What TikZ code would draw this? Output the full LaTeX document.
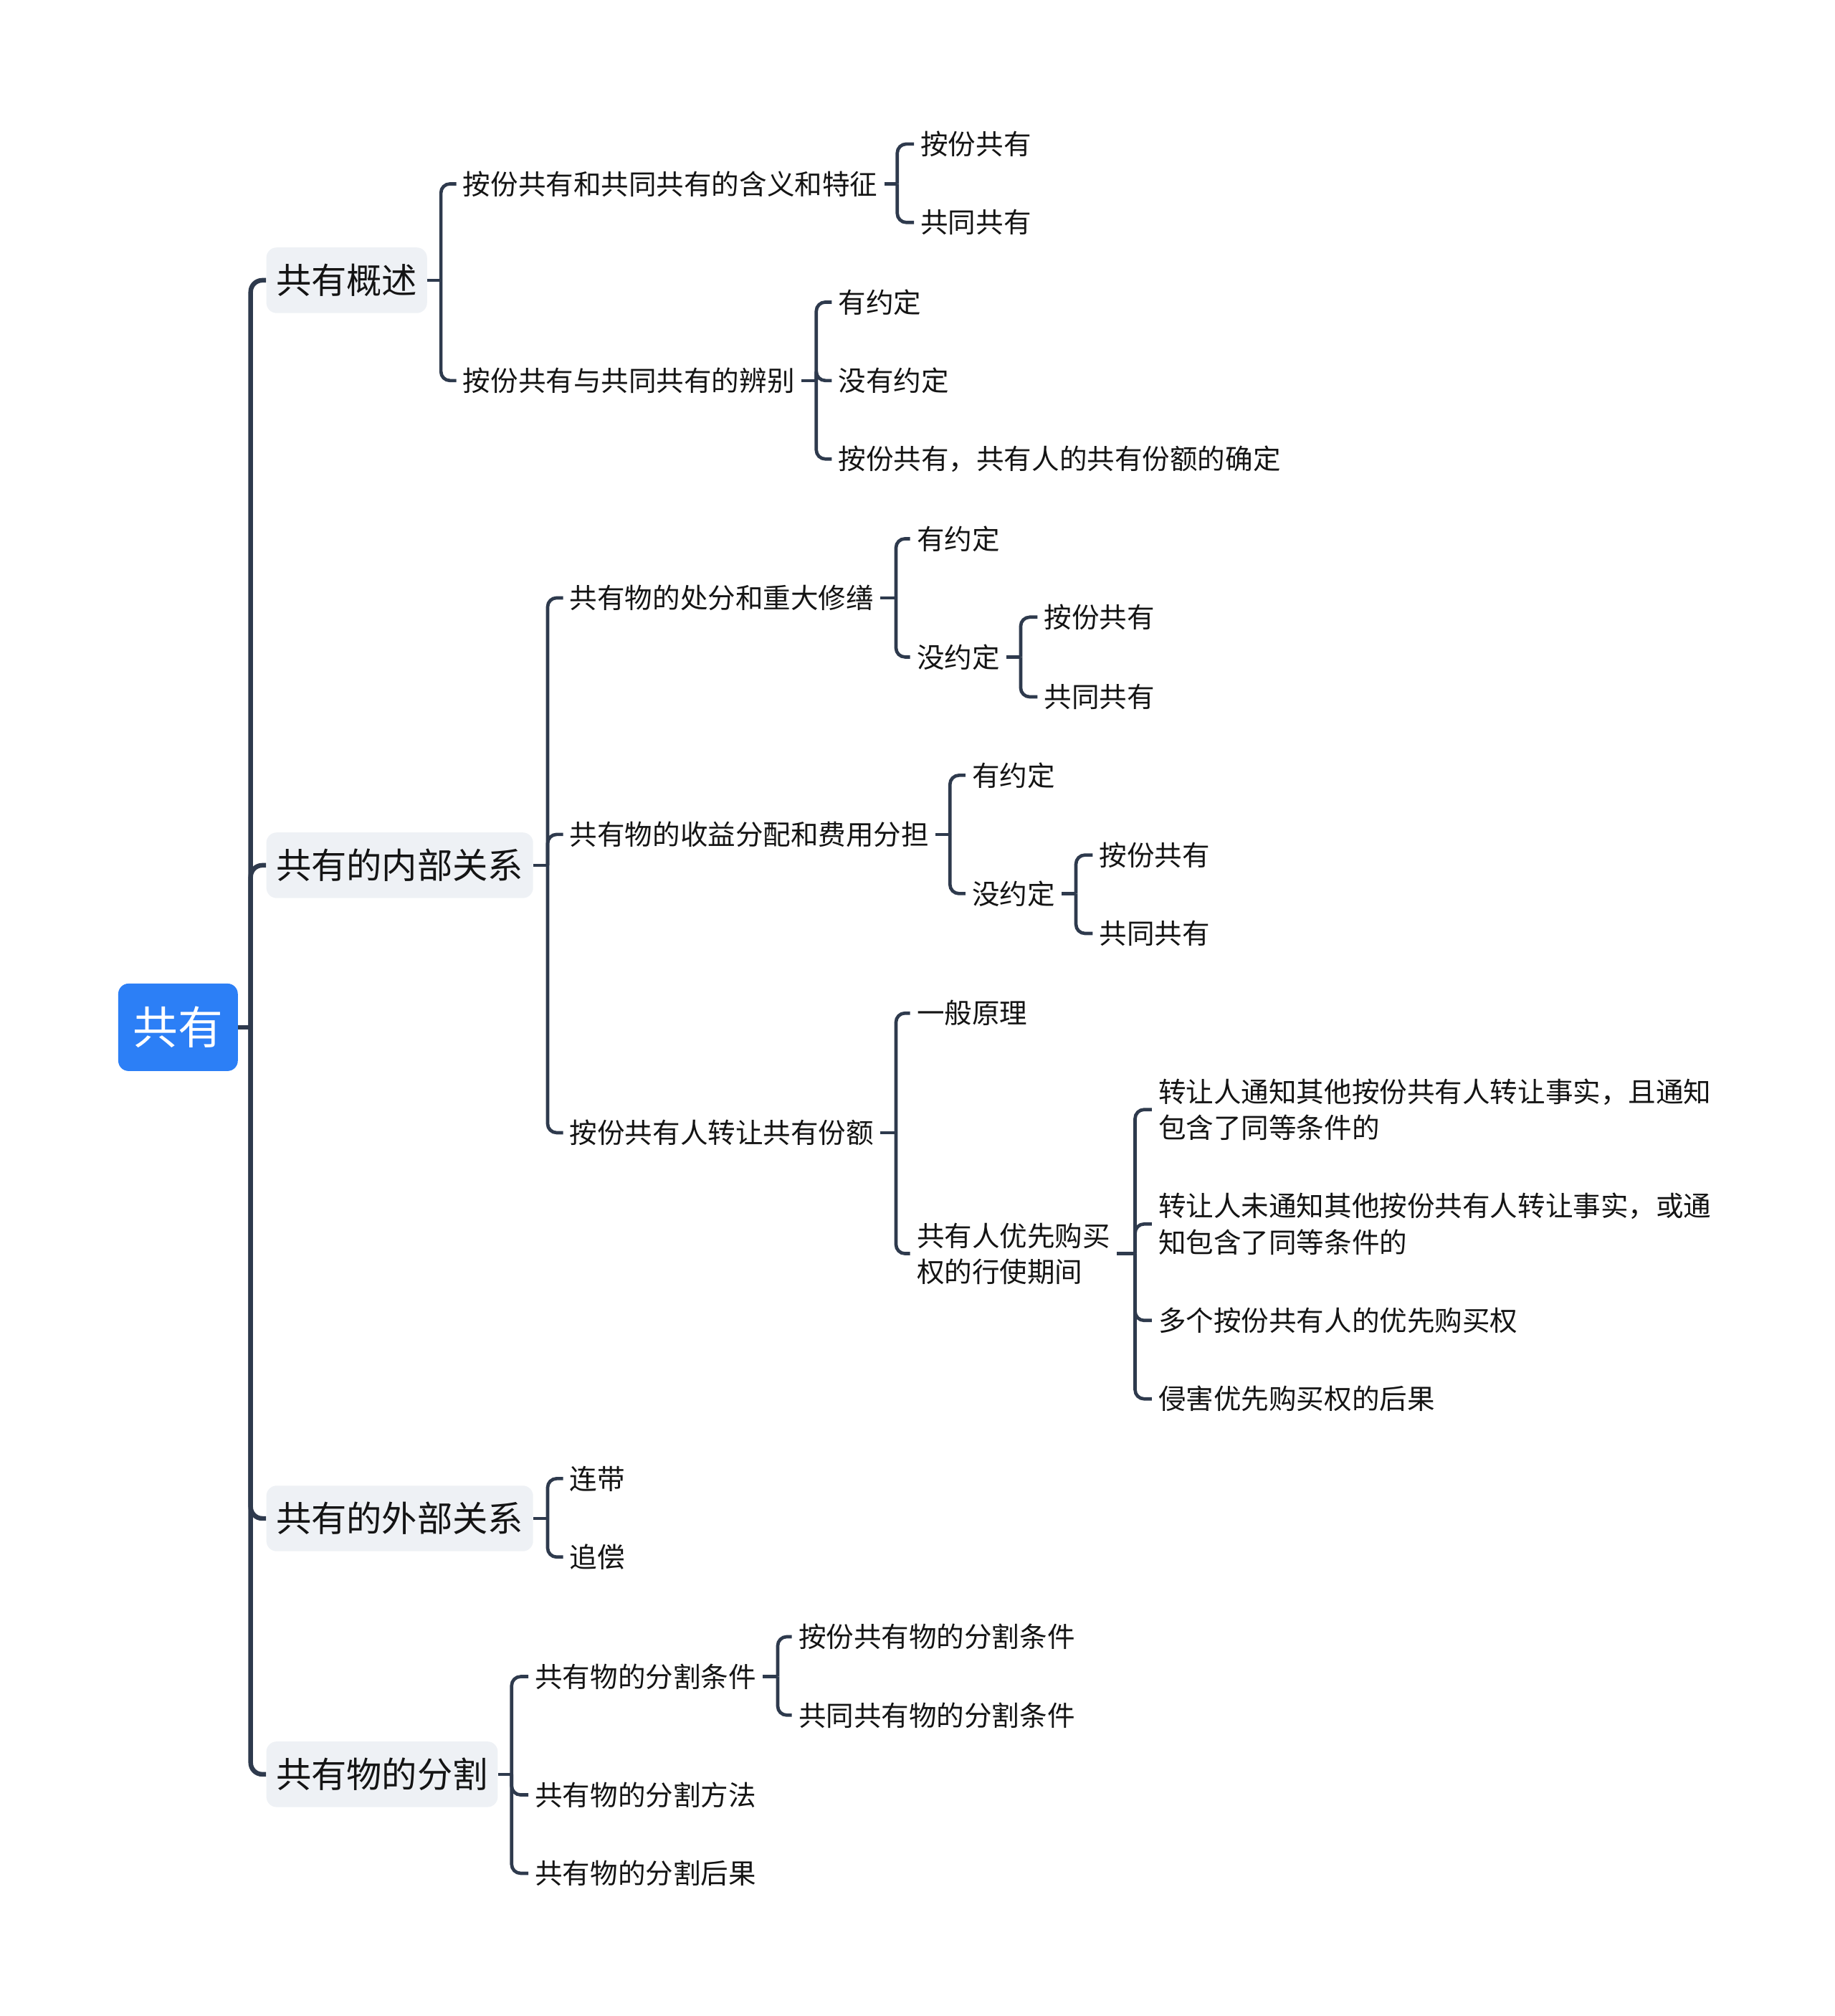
\documentclass[tikz,border=0pt]{standalone}
\usepackage{fontspec}
\setmainfont{Noto Sans CJK SC}
\definecolor{lineC}{RGB}{46,58,77}
\definecolor{rootC}{RGB}{44,127,246}
\definecolor{boxC}{RGB}{238,241,245}
\definecolor{txtC}{RGB}{20,20,20}
\tikzset{
  rootnode/.style={fill=rootC, rounded corners=8pt, text=white, font=\fontsize{35}{40}\selectfont, minimum width=93pt, minimum height=68pt, inner sep=0pt},
  topic/.style={fill=boxC, rounded corners=8pt, text=txtC, font=\fontsize{27.5}{32}\selectfont, minimum height=51pt, inner xsep=7.5pt, anchor=west},
  leaf/.style={text=txtC, font=\fontsize{21.5}{28}\selectfont, inner xsep=5pt, inner ysep=2pt, anchor=west, align=left},
  trunk/.style={draw=lineC, line width=3.6pt, rounded corners=9pt},
  conn/.style={draw=lineC, line width=2.6pt, rounded corners=7pt},
}
\begin{document}
\begin{tikzpicture}[x=1pt,y=-1pt]
\useasboundingbox (0,0) rectangle (1427,1568);
% root
\node[rootnode] (root) at (138.5,799) {共有};
% level 1
\node[topic] (a) at (207,218) {共有概述};
\node[topic] (b) at (207,673) {共有的内部关系};
\node[topic] (c) at (207,1181) {共有的外部关系};
\node[topic] (d) at (207,1380) {共有物的分割};
% group a
\node[leaf] (a1) at (355,143) {按份共有和共同共有的含义和特征};
\node[leaf] (a11) at (711,112) {按份共有};
\node[leaf] (a12) at (711,173) {共同共有};
\node[leaf] (a2) at (355,296) {按份共有与共同共有的辨别};
\node[leaf] (a21) at (647,235) {有约定};
\node[leaf] (a22) at (647,296) {没有约定};
\node[leaf] (a23) at (647,357) {按份共有，共有人的共有份额的确定};
% group b
\node[leaf] (b1) at (438,465) {共有物的处分和重大修缮};
\node[leaf] (b11) at (708,419) {有约定};
\node[leaf] (b12) at (708,511) {没约定};
\node[leaf] (b121) at (807,480) {按份共有};
\node[leaf] (b122) at (807,542) {共同共有};
\node[leaf] (b2) at (438,649) {共有物的收益分配和费用分担};
\node[leaf] (b21) at (751,603) {有约定};
\node[leaf] (b22) at (751,695) {没约定};
\node[leaf] (b221) at (850,665) {按份共有};
\node[leaf] (b222) at (850,726) {共同共有};
\node[leaf] (b3) at (438,881) {按份共有人转让共有份额};
\node[leaf] (b31) at (708,788) {一般原理};
\node[leaf] (b32) at (708,975) {共有人优先购买\\权的行使期间};
\node[leaf] (b321) at (896,863) {转让人通知其他按份共有人转让事实，且通知\\包含了同等条件的};
\node[leaf] (b322) at (896,952) {转让人未通知其他按份共有人转让事实，或通\\知包含了同等条件的};
\node[leaf] (b323) at (896,1027) {多个按份共有人的优先购买权};
\node[leaf] (b324) at (896,1088) {侵害优先购买权的后果};
% group c
\node[leaf] (c1) at (438,1150) {连带};
\node[leaf] (c2) at (438,1211) {追偿};
% group d
\node[leaf] (d1) at (411,1304) {共有物的分割条件};
\node[leaf] (d11) at (616,1273) {按份共有物的分割条件};
\node[leaf] (d12) at (616,1334) {共同共有物的分割条件};
\node[leaf] (d2) at (411,1396) {共有物的分割方法};
\node[leaf] (d3) at (411,1457) {共有物的分割后果};

% bracket points
\coordinate (kR) at (195,799);
\coordinate (kA) at (343,218);
\coordinate (kA1) at (698,143);
\coordinate (kA2) at (635,296);
\coordinate (kB) at (426,673);
\coordinate (kB1) at (697,465);
\coordinate (kB12) at (794,511);
\coordinate (kB2) at (739,649);
\coordinate (kB22) at (837,695);
\coordinate (kB3) at (697,881);
\coordinate (kB32) at (883,975);
\coordinate (kC) at (426,1181);
\coordinate (kD) at (398,1380);
\coordinate (kD1) at (605,1304);

% trunk
\draw[trunk] (root.east) -- (kR);
\foreach \t in {a,b,c,d} \draw[trunk] (kR) |- (\t.west);

% connectors
\draw[conn] (a.east) -- (kA);
\foreach \t in {a1,a2} \draw[conn] (kA) |- (\t.west);
\draw[conn] (a1.east) -- (kA1);
\foreach \t in {a11,a12} \draw[conn] (kA1) |- (\t.west);
\draw[conn] (a2.east) -- (kA2);
\foreach \t in {a21,a22,a23} \draw[conn] (kA2) |- (\t.west);

\draw[conn] (b.east) -- (kB);
\foreach \t in {b1,b2,b3} \draw[conn] (kB) |- (\t.west);
\draw[conn] (b1.east) -- (kB1);
\foreach \t in {b11,b12} \draw[conn] (kB1) |- (\t.west);
\draw[conn] (b12.east) -- (kB12);
\foreach \t in {b121,b122} \draw[conn] (kB12) |- (\t.west);
\draw[conn] (b2.east) -- (kB2);
\foreach \t in {b21,b22} \draw[conn] (kB2) |- (\t.west);
\draw[conn] (b22.east) -- (kB22);
\foreach \t in {b221,b222} \draw[conn] (kB22) |- (\t.west);
\draw[conn] (b3.east) -- (kB3);
\foreach \t in {b31,b32} \draw[conn] (kB3) |- (\t.west);
\draw[conn] (b32.east) -- (kB32);
\foreach \t in {b321,b322,b323,b324} \draw[conn] (kB32) |- (\t.west);

\draw[conn] (c.east) -- (kC);
\foreach \t in {c1,c2} \draw[conn] (kC) |- (\t.west);

\draw[conn] (d.east) -- (kD);
\foreach \t in {d1,d2,d3} \draw[conn] (kD) |- (\t.west);
\draw[conn] (d1.east) -- (kD1);
\foreach \t in {d11,d12} \draw[conn] (kD1) |- (\t.west);
\end{tikzpicture}
\end{document}
